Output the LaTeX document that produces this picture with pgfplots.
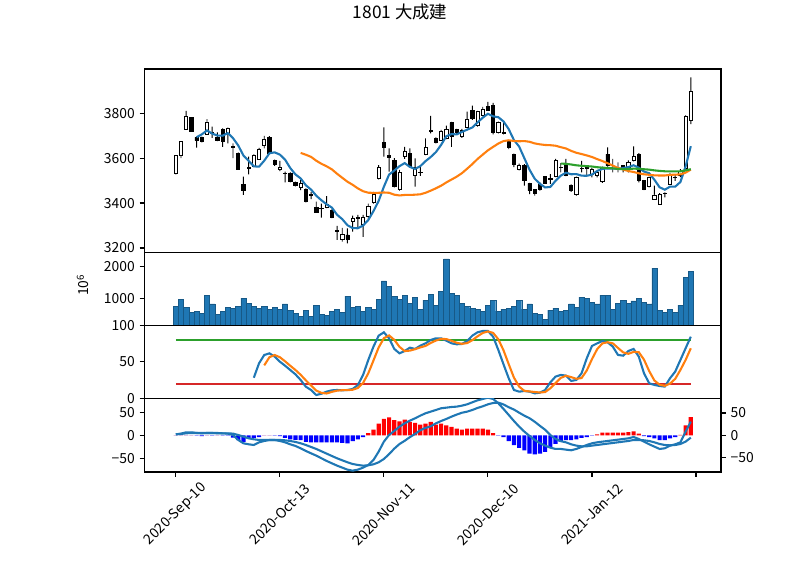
\documentclass[border=0pt]{standalone}
\usepackage{fontspec}
\setmainfont{Noto Sans CJK JP}
\usepackage{pgfplots}
\pgfplotsset{compat=1.18}
\usepackage{pgfplotstable}

\definecolor{C0}{RGB}{31,119,180}
\definecolor{C1}{RGB}{255,127,14}
\definecolor{C2}{RGB}{44,160,44}
\definecolor{C3}{RGB}{214,39,40}

\pgfplotstableread{
i O H L C
0 3530 3612 3527 3610
1 3610 3673 3600 3673
2 3727 3810 3727 3784
3 3781 3781 3717 3720
4 3692 3695 3646 3677
5 3690 3695 3670 3673
6 3707 3773 3705 3761
7 3715 3740 3690 3712
8 3690 3714 3675 3678
9 3726 3732 3650 3673
10 3710 3735 3665 3732
11 3650 3665 3600 3647
12 3621 3625 3548 3551
13 3483 3517 3436 3455
14 3557 3606 3527 3553
15 3564 3616 3560 3610
16 3596 3645 3592 3640
17 3655 3699 3643 3683
18 3693 3697 3617 3621
19 3590 3593 3565 3573
20 3548 3587 3542 3560
21 3533 3540 3492 3530
22 3533 3537 3492 3495
23 3492 3495 3474 3478
24 3470 3502 3458 3486
25 3461 3465 3403 3406
26 3438 3450 3418 3435
27 3381 3406 3357 3359
28 3378 3398 3335 3375
29 3381 3431 3378 3396
30 3369 3372 3333 3335
31 3280 3298 3236 3275
32 3240 3290 3228 3261
33 3258 3287 3221 3240
34 3318 3344 3273 3332
35 3335 3347 3290 3332
36 3305 3347 3250 3335
37 3339 3398 3330 3384
38 3403 3450 3398 3438
39 3510 3569 3505 3560
40 3670 3736 3606 3646
41 3610 3643 3540 3605
42 3590 3600 3470 3473
43 3459 3547 3455 3536
44 3606 3650 3596 3628
45 3621 3643 3557 3561
46 3521 3599 3473 3560
47 3538 3561 3521 3535
48 3616 3687 3613 3647
49 3722 3788 3710 3720
50 3687 3692 3665 3670
51 3680 3725 3677 3721
52 3687 3744 3684 3727
53 3757 3761 3650 3695
54 3727 3730 3705 3713
55 3695 3730 3690 3724
56 3736 3806 3733 3772
57 3813 3833 3770 3776
58 3744 3810 3740 3806
59 3788 3828 3785 3818
60 3828 3850 3810 3813
61 3833 3845 3705 3714
62 3714 3762 3710 3757
63 3715 3755 3705 3712
64 3673 3680 3640 3646
65 3616 3620 3560 3572
66 3551 3575 3545 3569
67 3566 3573 3477 3499
68 3487 3490 3440 3455
69 3459 3462 3433 3445
70 3484 3492 3455 3459
71 3517 3520 3486 3489
72 3505 3529 3485 3510
73 3519 3596 3515 3591
74 3557 3578 3536 3560
75 3569 3596 3520 3524
76 3480 3483 3450 3455
77 3437 3518 3433 3514
78 3553 3588 3536 3556
79 3555 3566 3521 3557
80 3529 3555 3514 3551
81 3525 3540 3514 3536
82 3495 3562 3490 3559
83 3618 3647 3562 3566
84 3555 3596 3536 3553
85 3550 3581 3536 3548
86 3566 3568 3536 3551
87 3559 3590 3536 3581
88 3588 3652 3585 3607
89 3618 3622 3492 3499
90 3499 3502 3458 3462
91 3474 3518 3470 3514
92 3418 3477 3415 3436
93 3396 3444 3392 3440
94 3442 3448 3425 3445
95 3485 3534 3480 3529
96 3513 3529 3499 3514
97 3525 3551 3515 3540
98 3554 3790 3550 3785
99 3766 3959 3751 3896
}\ohlc

\pgfplotstableread{
i v
4 3692.8
5 3705.4
6 3723.0
7 3708.6
8 3700.2
9 3699.4
10 3711.2
11 3688.4
12 3656.2
13 3611.6
14 3587.6
15 3563.2
16 3561.8
17 3588.2
18 3621.4
19 3625.4
20 3615.4
21 3593.4
22 3555.8
23 3527.2
24 3509.8
25 3479.0
26 3460.0
27 3432.8
28 3412.2
29 3394.2
30 3380.0
31 3348.0
32 3328.4
33 3301.4
34 3288.6
35 3288.0
36 3300.0
37 3324.6
38 3364.2
39 3409.8
40 3472.6
41 3526.6
42 3544.4
43 3564.0
44 3577.6
45 3560.6
46 3551.6
47 3564.0
48 3586.2
49 3604.6
50 3626.4
51 3658.6
52 3697.0
53 3706.6
54 3705.2
55 3716.0
56 3726.2
57 3736.0
58 3758.2
59 3779.2
60 3797.0
61 3785.4
62 3781.6
63 3762.8
64 3728.4
65 3680.2
66 3651.2
67 3599.6
68 3548.2
69 3508.0
70 3485.4
71 3469.4
72 3471.6
73 3498.8
74 3521.8
75 3534.8
76 3528.0
77 3528.8
78 3521.8
79 3521.2
80 3526.6
81 3542.8
82 3551.8
83 3553.8
84 3553.0
85 3552.4
86 3555.4
87 3559.8
88 3568.0
89 3557.2
90 3540.0
91 3532.6
92 3503.6
93 3470.2
94 3459.4
95 3472.8
96 3472.8
97 3493.6
98 3562.6
99 3652.8
}\maA

\pgfplotstableread{
i v
24 3623.0
25 3614.8
26 3605.3
27 3588.3
28 3574.5
29 3563.3
30 3549.8
31 3530.3
32 3512.3
33 3494.8
34 3481.1
35 3465.1
36 3452.6
37 3446.0
38 3445.3
39 3445.6
40 3447.0
41 3445.6
42 3437.2
43 3433.8
44 3436.0
45 3436.0
46 3437.2
47 3438.8
48 3445.6
49 3455.0
50 3465.5
51 3477.0
52 3491.7
53 3504.5
54 3517.2
55 3532.7
56 3552.6
57 3573.2
58 3595.8
59 3615.3
60 3634.5
61 3649.7
62 3664.6
63 3675.6
64 3679.0
65 3676.0
66 3674.6
67 3675.6
68 3672.4
69 3665.1
70 3661.0
71 3658.2
72 3657.2
73 3654.9
74 3648.5
75 3642.7
76 3632.0
77 3623.5
78 3618.0
79 3611.7
80 3604.8
81 3595.4
82 3586.7
83 3577.1
84 3566.5
85 3555.9
86 3549.4
87 3542.3
88 3538.1
89 3532.2
90 3527.8
91 3525.6
92 3523.1
93 3522.5
94 3522.5
95 3525.3
96 3526.3
97 3527.5
98 3535.3
99 3548.7
}\maB

\pgfplotstableread{
i v
74 3575.5
75 3574.3
76 3571.4
77 3567.8
78 3565.7
79 3564.1
80 3562.4
81 3559.4
82 3557.4
83 3555.9
84 3554.3
85 3551.8
86 3550.6
87 3551.0
88 3553.0
89 3552.3
90 3550.3
91 3548.6
92 3545.3
93 3542.9
94 3541.2
95 3540.8
96 3540.6
97 3541.2
98 3545.3
99 3550.7
}\maC

\pgfplotstableread{
i v
0 756
1 978
2 725
3 566
4 598
5 535
6 1104
7 820
8 503
9 598
10 725
11 693
12 756
13 1009
14 851
15 756
16 693
17 756
18 661
19 725
20 661
21 820
22 630
23 535
24 440
25 630
26 440
27 788
28 503
29 471
30 598
31 661
32 566
33 1073
34 725
35 756
36 598
37 725
38 661
39 978
40 1548
41 1389
42 1073
43 978
44 1104
45 851
46 1041
47 661
48 946
49 1136
50 788
51 1231
52 2244
53 1168
54 1104
55 851
56 756
57 693
58 661
59 598
60 788
61 946
62 598
63 661
64 693
65 756
66 946
67 661
68 820
69 535
70 503
71 345
72 630
73 693
74 598
75 630
76 820
77 725
78 1041
79 1009
80 883
81 820
82 1104
83 1104
84 661
85 851
86 946
87 851
88 915
89 1009
90 883
91 820
92 1959
93 630
94 566
95 661
96 566
97 788
98 1674
99 1864
}\vol

\pgfplotstableread{
i K D
15 28.2 nan
16 47.9 nan
17 59.3 45.1
18 61.6 56.3
19 57.1 59.3
20 50.2 56.3
21 44.7 50.7
22 38.8 44.6
23 32.8 38.8
24 25.1 32.2
25 15.9 24.6
26 11.4 17.5
27 4.5 10.6
28 6.3 7.4
29 9.1 6.6
30 10.9 8.8
31 11.4 10.5
32 10.9 11.1
33 11.4 11.2
34 12.8 11.7
35 18.2 14.1
36 32.0 21.0
37 52.5 34.2
38 70.8 51.8
39 85.8 69.7
40 90.4 82.3
41 82.2 86.1
42 67.6 80.1
43 61.6 70.5
44 64.8 64.7
45 69.4 65.3
46 67.6 67.3
47 72.1 69.7
48 75.3 71.7
49 79.9 75.8
50 82.2 79.1
51 82.2 81.4
52 78.9 81.1
53 75.3 78.8
54 74.0 76.1
55 74.4 74.6
56 78.5 75.6
57 85.8 79.6
58 90.4 84.9
59 92.2 89.5
60 92.2 91.6
61 84.4 89.6
62 66.2 80.9
63 46.5 65.7
64 27.4 46.7
65 11.4 28.4
66 9.1 16.0
67 10.0 10.2
68 9.1 9.4
69 6.8 8.6
70 7.7 7.9
71 11.4 8.6
72 21.9 13.7
73 29.7 21.0
74 32.0 27.9
75 31.1 30.9
76 23.8 29.0
77 25.1 26.7
78 34.3 27.7
79 54.8 38.1
80 71.7 53.6
81 75.3 67.3
82 78.5 75.2
83 76.7 76.8
84 70.8 75.3
85 59.4 69.0
86 58.4 62.9
87 64.8 60.9
88 67.6 63.6
89 57.1 63.2
90 34.3 53.0
91 20.6 37.3
92 18.3 24.4
93 16.9 18.6
94 16.0 17.1
95 27.4 20.1
96 36.5 26.6
97 52.5 38.8
98 68.5 52.5
99 84.4 68.5
}\sto

\pgfplotstableread{
i m s h
0 2.1 2.1 0
1 3.6 2.9 0
2 6.5 4.3 0
3 6.5 5.0 0
4 5.0 5.0 -1
5 4.3 5.0 -2
6 5.0 5.0 0
7 5.0 5.0 -1
8 4.3 5.0 0
9 4.3 4.3 -1
10 3.6 4.3 -1
11 0.7 3.6 -5
12 -10.2 0.7 -11
13 -17.4 -2.9 -15
14 -19.6 -6.6 -8
15 -21.1 -8.7 -6
16 -15.3 -10.2 -4
17 -12.4 -10.2 0
18 -10.2 -10.2 0
19 -10.2 -10.2 -1
20 -12.4 -10.2 -2
21 -15.3 -10.9 -6
22 -19.6 -12.4 -9
23 -23.2 -14.5 -10
24 -28.3 -17.4 -11
25 -34.1 -21.1 -15
26 -39.2 -25.4 -16
27 -44.2 -29.7 -16
28 -50.0 -34.8 -16
29 -55.8 -39.9 -16
30 -60.9 -45.0 -16
31 -66.0 -50.0 -16
32 -70.3 -54.4 -17
33 -74.7 -58.7 -18
34 -76.9 -62.4 -13
35 -74.7 -64.5 -9
36 -70.3 -66.0 -4
37 -64.5 -65.2 5
38 -53.7 -63.1 13
39 -35.5 -58.7 26
40 -13.8 -51.5 37
41 0.7 -41.0 40
42 9.4 -29.0 34
43 18.8 -19.0 31
44 26.0 -12.0 35
45 31.8 -4.0 30
46 36.9 3.0 28
47 42.7 11.0 24
48 47.8 16.0 26
49 51.4 19.5 30
50 55.0 26.0 24
51 58.7 31.0 26
52 60.1 35.5 22
53 61.5 40.5 19
54 62.3 45.0 15
55 64.4 49.0 13
56 67.3 51.4 15
57 71.7 55.0 15
58 76.0 59.4 15
59 78.9 63.0 15
60 81.8 67.3 13
61 78.9 70.2 5
62 69.5 71.0 -1
63 57.2 67.0 -4
64 44.2 61.0 -13
65 31.1 55.9 -22
66 18.8 49.1 -28
67 8.0 42.7 -34
68 -1.5 37.1 -41
69 -10.2 29.4 -43
70 -17.4 20.5 -41
71 -22.5 12.0 -37
72 -26.9 0.6 -26
73 -29.7 -7.9 -19
74 -29.7 -12.8 -15
75 -31.2 -15.3 -11
76 -32.6 -19.6 -11
77 -29.7 -22.5 -9
78 -25.4 -24.0 -6
79 -21.1 -24.0 -4
80 -17.4 -22.5 -1
81 -15.3 -21.1 2
82 -13.8 -19.6 6
83 -12.4 -18.2 6
84 -10.9 -16.7 6
85 -9.5 -15.3 6
86 -8.0 -13.8 6
87 -6.6 -12.4 7
88 -3.7 -10.2 9
89 -8.0 -10.2 4
90 -13.8 -10.9 -2
91 -19.6 -12.4 -4
92 -24.7 -15.3 -7
93 -29.7 -18.9 -11
94 -28.3 -21.1 -11
95 -22.5 -21.8 -7
96 -19.6 -21.1 -4
97 -15.3 -18.9 1
98 8.0 -13.8 22
99 29.7 -5.1 41
}\macd

\pgfplotsset{
  base/.style={
    scale only axis, width=415pt,
    xmin=-6, xmax=104.8,
    axis line style={line width=0.8pt},
    tick style={black, line width=0.8pt},
    major tick length=3.5pt,
    tick align=outside,
    tick label style={font=\fontsize{10}{12}\selectfont},
    label style={font=\fontsize{10}{12}\selectfont},
    xtick=\empty, ytick pos=left,
  },
  pA/.style={base, at={(104.1pt,364.32pt)}, anchor=north west, height=132pt, ymin=3181, ymax=3996},
  pB/.style={base, at={(104.1pt,232.34pt)}, anchor=north west, height=52.56pt, ymin=146, ymax=2456},
  pC/.style={base, at={(104.1pt,179.78pt)}, anchor=north west, height=52.56pt, ymin=0, ymax=100},
  pD/.style={base, at={(104.1pt,127.22pt)}, anchor=north west, height=53.06pt},
}

\begin{document}
\begin{tikzpicture}[x=1pt,y=1pt]
\path[use as bounding box] (0,0) rectangle (576,414);
\node[font=\fontsize{12.5}{15}\selectfont] at (288,405.5) {1801 大成建};

% wicks
\begin{axis}[pA, hide axis, ybar stacked, bar width=0.18]
\addplot[draw=none, fill=none] table[x=i, y=L]{\ohlc};
\addplot[fill=black, draw=none] table[x=i, y expr=\thisrow{H}-\thisrow{L}]{\ohlc};
\end{axis}

% bodies
\begin{axis}[pA, hide axis, ybar stacked, bar width=0.62]
\addplot[draw=none, fill=none] table[x=i, y expr={min(\thisrow{O},\thisrow{C})}]{\ohlc};
\addplot[fill=white, draw=black, line width=0.5pt] table[x=i, y expr={max(\thisrow{C}-\thisrow{O},0)}]{\ohlc};
\addplot[fill=black, draw=black, line width=0.5pt] table[x=i, y expr={max(\thisrow{O}-\thisrow{C},0)}]{\ohlc};
\end{axis}

% price frame and moving averages
\begin{axis}[pA, ytick={3200,3400,3600,3800}, yticklabels={3200,3400,3600,3800}]
\addplot[C0, line width=1.5pt] table[x=i, y=v]{\maA};
\addplot[C1, line width=1.5pt] table[x=i, y=v]{\maB};
\addplot[C2, line width=1.5pt] table[x=i, y=v]{\maC};
\end{axis}

% volume
\begin{axis}[pB, ytick={1000,2000}, yticklabels={1000,2000},
  ylabel={10\textsuperscript{6}},
  ylabel style={at={(axis description cs:-0.107,0.55)}, anchor=center}]
\addplot[ybar, bar width=1, fill=C0, draw=C0!75!black, line width=0.3pt] table[x=i, y=v]{\vol};
\end{axis}

% stochastic
\begin{axis}[pC, ytick={0,50,100}, yticklabels={0,50,100}]
\addplot[C2, line width=1.5pt] coordinates {(0,80) (99,80)};
\addplot[C3, line width=1.5pt] coordinates {(0,20) (99,20)};
\addplot[C0, line width=1.5pt] table[x=i, y=K]{\sto};
\addplot[C1, line width=1.5pt] table[x=i, y=D]{\sto};
\end{axis}

% MACD histogram (right axis)
\begin{axis}[pD, ymin=-82.3, ymax=83, axis x line=none, axis y line*=right,
  ytick={-50,0,50}, yticklabels={−50,0,50}, ytick pos=right]
\addplot[ybar, bar width=0.8, fill=red, draw=none, restrict y to domain=0:200] table[x=i, y=h]{\macd};
\addplot[ybar, bar width=0.8, fill=blue, draw=none, restrict y to domain=-200:0] table[x=i, y=h]{\macd};
\end{axis}

% MACD lines (left axis)
\begin{axis}[pD, ymin=-79.8, ymax=80.4, ytick={-50,0,50}, yticklabels={−50,0,50},
  xtick={0,20,40,60,80,100}, xtick pos=bottom,
  xticklabels={2020-Sep-10,2020-Oct-13,2020-Nov-11,2020-Dec-10,2021-Jan-12,{}},
  xticklabel style={yshift=-27pt, rotate=45, anchor=center}]
\addplot[C0, line width=1.5pt] table[x=i, y=m]{\macd};
\addplot[C0, line width=1.5pt] table[x=i, y=s]{\macd};
\end{axis}
\end{tikzpicture}
\end{document}
